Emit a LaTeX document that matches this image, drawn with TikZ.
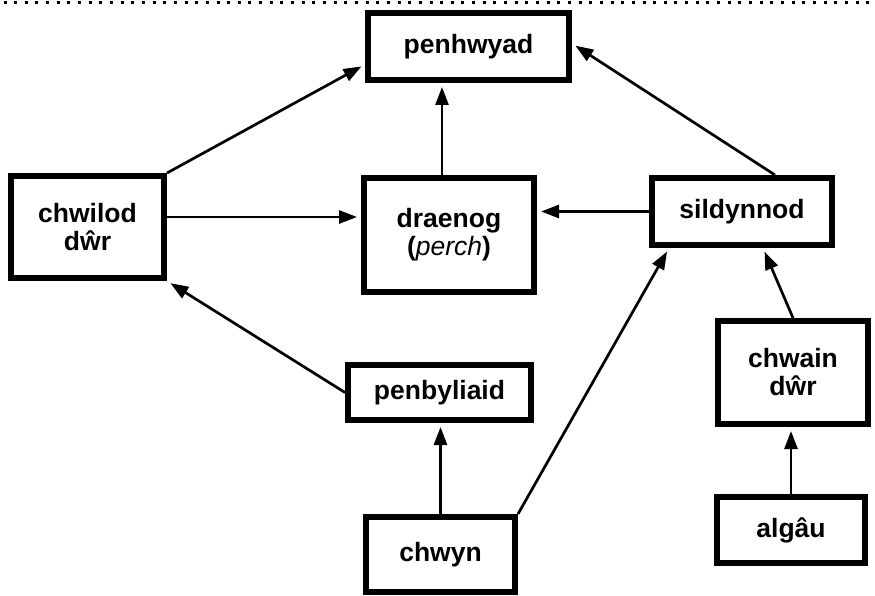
\documentclass[tikz,border=0pt]{standalone}
\usepackage{fontspec}
\setmainfont{Liberation Sans}
\usetikzlibrary{arrows.meta}
\begin{document}
\begin{tikzpicture}[x=1pt,y=-1pt,
  box/.style={draw, line width=6pt, align=center, inner sep=0pt,
    font=\fontsize{26.5}{28}\selectfont\bfseries},
  link/.style={line width=2.7pt, -{Triangle[length=18pt,width=13pt]}, shorten >=4pt},
  topline/.style={line width=3pt, dash pattern=on 3pt off 7.65pt}]
\useasboundingbox (0,0) rectangle (875,596);

% dotted rule along the top edge
\draw[topline] (3.5,2.5) -- (875,2.5);

% food-web boxes
\node[box, minimum width=201pt, minimum height=67pt]  (penhwyad)   at (468.5,46.5) {penhwyad};
\node[box, minimum width=170pt, minimum height=114pt] (draenog)    at (449,235)    {draenog\\({\normalfont\itshape perch})};
\node[box, minimum width=180pt, minimum height=67pt]  (sildynnod)  at (742,211.5)  {sildynnod};
\node[box, minimum width=153pt, minimum height=102pt] (chwilod)    at (87.5,227)   {chwilod\\dŵr};
\node[box, minimum width=183pt, minimum height=55pt]  (penbyliaid) at (439.5,392.5){penbyliaid};
\node[box, minimum width=149pt, minimum height=75pt]  (chwyn)      at (440.5,554.5){chwyn};
\node[box, minimum width=150pt, minimum height=103pt] (chwain)     at (793,372.5)  {chwain\\dŵr};
\node[box, minimum width=148pt, minimum height=66pt]  (algau)      at (791,530)    {algâu};

% helper points for offset connectors
\coordinate (cw) at ([yshift=10pt]chwilod.east);
\coordinate (dn) at ([xshift=-7pt]draenog.north);

% who eats whom
\draw[link] (chwilod.north east) -- ([yshift=-18pt]penhwyad.west);
\draw[link] (cw) -- (cw -| draenog.west);
\draw[link] (dn) -- (dn |- penhwyad.south);
\draw[link] ([xshift=33pt]sildynnod.north) -- ([yshift=3pt]penhwyad.east);
\draw[link] (sildynnod.west) -- (sildynnod.west -| draenog.east);
\draw[link] (penbyliaid.west) -- (chwilod.south east);
\draw[link] (chwyn.north) -- (chwyn.north |- penbyliaid.south);
\draw[link] (chwyn.north east) -- ([xshift=20pt]sildynnod.south west);
\draw[link] (chwain.north) -- ([xshift=21pt]sildynnod.south);
\draw[link] (algau.north) -- (algau.north |- chwain.south);
\end{tikzpicture}
\end{document}
